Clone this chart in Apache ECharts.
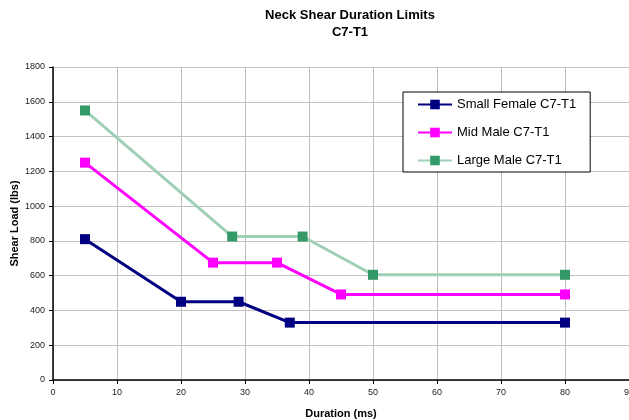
<!DOCTYPE html>
<html>
<head>
<meta charset="utf-8">
<script src="https://cdn.jsdelivr.net/npm/echarts@6/dist/echarts.min.js"></script>
<style>
  html, body { margin: 0; padding: 0; background: #fff; }
  #chart { width: 629px; height: 420px; }
</style>
</head>
<body>
<div id="chart"></div>
<script>
// Neck shear duration limits at C7-T1: [duration ms, shear load lbs]
const seriesNames = ['Small Female C7-T1', 'Mid Male C7-T1', 'Large Male C7-T1'];
const smallFemale = [[5, 810], [20, 450], [29, 450], [37, 330], [80, 330]];
const midMale = [[5, 1250], [25, 675], [35, 675], [45, 492], [80, 492]];
const largeMale = [[5, 1550], [28, 825], [39, 825], [50, 605], [80, 605]];

const lineColors = ['#000080', '#ff00ff', '#9fd0b5'];
const markerColors = ['#000080', '#ff00ff', '#339966'];
const font = 'Liberation Sans, Arial, sans-serif';

const chart = echarts.init(document.getElementById('chart'));

function makeSeries(name, data, i) {
  return {
    name: name,
    type: 'line',
    data: data,
    symbol: 'rect',
    symbolSize: 10,
    lineStyle: { color: lineColors[i], width: 3 },
    itemStyle: { color: markerColors[i] },
    emphasis: { disabled: true },
    animation: false,
    z: 2 + i
  };
}

const plainNumber = v => String(v);

chart.setOption({
  backgroundColor: '#ffffff',
  animation: false,
  title: {
    text: 'Neck Shear Duration Limits\nC7-T1',
    left: 345,
    textAlign: 'center',
    top: 2,
    textStyle: { fontFamily: font, fontSize: 13, fontWeight: 'bold', color: '#000', lineHeight: 17 }
  },
  legend: {
    orient: 'vertical',
    left: 403,
    top: 92,
    padding: [6, 14, 5, 14],
    itemWidth: 34,
    itemHeight: 12,
    itemGap: 15,
    borderColor: '#000',
    borderWidth: 1,
    backgroundColor: '#fff',
    data: seriesNames,
    textStyle: { fontFamily: font, fontSize: 13, color: '#000' }
  },
  grid: { left: 53, top: 67, right: 0, bottom: 40, containLabel: false, outerBoundsMode: 'none' },
  xAxis: {
    type: 'value',
    min: 0,
    max: 90,
    interval: 10,
    name: 'Duration (ms)',
    nameLocation: 'middle',
    nameGap: 28,
    nameMoveOverlap: false,
    nameTextStyle: { fontFamily: font, fontSize: 11, fontWeight: 'bold', color: '#000' },
    axisLine: { onZero: false, lineStyle: { color: '#000', width: 1.5 } },
    axisTick: { show: true, length: 4, lineStyle: { color: '#000' } },
    axisLabel: { fontFamily: font, fontSize: 9, color: '#222', margin: 8, formatter: plainNumber },
    splitLine: { show: true, lineStyle: { color: '#c0c0c0', width: 1 } }
  },
  yAxis: {
    type: 'value',
    min: 0,
    max: 1800,
    interval: 200,
    name: 'Shear Load (lbs)',
    nameLocation: 'middle',
    nameGap: 33,
    nameMoveOverlap: false,
    nameRotate: 90,
    nameTextStyle: { fontFamily: font, fontSize: 11, fontWeight: 'bold', color: '#000' },
    axisLine: { show: true, lineStyle: { color: '#000', width: 1.5 } },
    axisTick: { show: true, length: 4, lineStyle: { color: '#000' } },
    axisLabel: { fontFamily: font, fontSize: 9, color: '#222', margin: 8, formatter: plainNumber },
    splitLine: { show: true, lineStyle: { color: '#c0c0c0', width: 1 } }
  },
  series: [
    makeSeries(seriesNames[0], smallFemale, 0),
    makeSeries(seriesNames[1], midMale, 1),
    makeSeries(seriesNames[2], largeMale, 2)
  ]
});
</script>
</body>
</html>
